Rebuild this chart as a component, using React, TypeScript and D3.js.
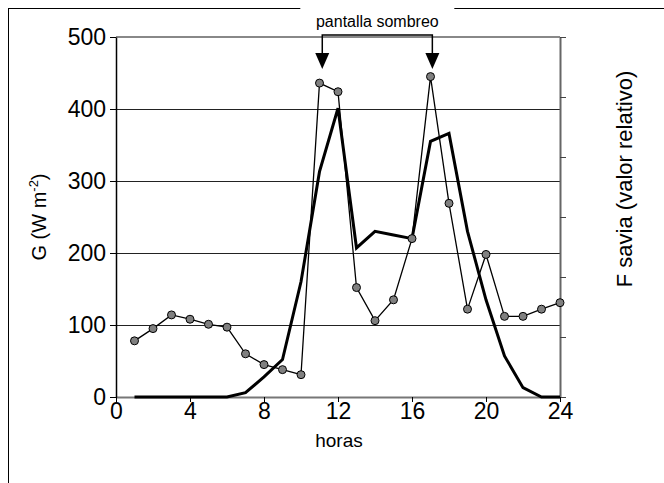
import React, { useRef, useEffect } from 'react';
import * as d3 from 'd3';

// horas del dia
const hours = [1, 2, 3, 4, 5, 6, 7, 8, 9, 10, 11, 12, 13, 14, 15, 16, 17, 18, 19, 20, 21, 22, 23, 24];
// radiacion global G (W m-2), linea gruesa
const radiation = [0, 0, 0, 0, 0, 0, 6, 28, 52, 160, 313, 401, 207, 230, 225, 220, 355, 366, 230, 135, 57, 13, 0, 0];
// flujo de savia (relativo, misma escala visual), linea con circulos
const sapFlow = [78, 95, 114, 108, 101, 97, 60, 45, 38, 31, 436, 424, 152, 106, 135, 220, 445, 269, 122, 198, 112, 112, 122, 131];
const xTicks = [0, 4, 8, 12, 16, 20, 24];
const yTicks = [0, 100, 200, 300, 400, 500];
const gridValues = [100, 200, 300, 400];
const rightTicks = [0, 1, 2, 3, 4, 5, 6];
const shadeHours = [11.15, 17.1];
const annotation = 'pantalla sombreo';

const App = () => {
    const ref = useRef<SVGSVGElement>(null);

    useEffect(() => {
        const svg = d3.select(ref.current);
        svg.selectAll('*').remove();

        const left = 116, right = 560, top = 37, bottom = 397;
        const font = 'Liberation Sans, Arial, sans-serif';
        const tickFs = 23;

        const x = d3.scaleLinear().domain([0, 24]).range([left, right]);
        const y = d3.scaleLinear().domain([0, 500]).range([bottom, top]);
        const yRight = d3.scaleLinear().domain([0, 6]).range([bottom, top]);

        // marco exterior
        svg.append('rect')
            .attr('x', 8.5).attr('y', 8.5)
            .attr('width', 800).attr('height', 600)
            .attr('fill', 'white').attr('stroke', 'black').attr('stroke-width', 1);

        // lineas de rejilla
        svg.append('g').selectAll('line').data(gridValues).join('line')
            .attr('x1', left).attr('x2', right)
            .attr('y1', d => Math.round(y(d)) + 0.5).attr('y2', d => Math.round(y(d)) + 0.5)
            .attr('stroke', '#222').attr('stroke-width', 1);

        // borde superior del area
        svg.append('line')
            .attr('x1', left).attr('x2', right)
            .attr('y1', top).attr('y2', top)
            .attr('stroke', '#888').attr('stroke-width', 2);

        // eje derecho
        const rightAxis = svg.append('g')
            .attr('transform', `translate(${right}, 0)`)
            .call(d3.axisRight(yRight).tickValues(rightTicks).tickFormat(() => '').tickSize(6).tickSizeOuter(0));
        rightAxis.select('.domain').attr('stroke', '#666').attr('stroke-width', 2);
        rightAxis.selectAll('.tick line').attr('stroke', '#444');

        // eje x
        const xAxis = svg.append('g')
            .attr('transform', `translate(0, ${bottom})`)
            .call(d3.axisBottom(x).tickValues(xTicks).tickSize(5).tickSizeOuter(0).tickPadding(1));
        xAxis.select('.domain').attr('stroke', '#777').attr('stroke-width', 2);
        xAxis.selectAll('.tick text').attr('font-family', font).attr('font-size', tickFs).attr('fill', 'black');

        // eje y
        const yAxis = svg.append('g')
            .attr('transform', `translate(${left}, 0)`)
            .call(d3.axisLeft(y).tickValues(yTicks).tickSize(6).tickSizeOuter(0).tickPadding(4));
        yAxis.select('.domain').attr('stroke', 'black').attr('stroke-width', 1.5);
        yAxis.selectAll('.tick text').attr('font-family', font).attr('font-size', tickFs).attr('fill', 'black');

        // radiacion (linea gruesa)
        const line = d3.line<number>()
            .x((d, i) => x(hours[i]))
            .y(d => y(d));
        svg.append('path')
            .datum(radiation)
            .attr('fill', 'none')
            .attr('stroke', 'black')
            .attr('stroke-width', 3)
            .attr('d', line);

        // flujo de savia (linea fina + circulos)
        svg.append('path')
            .datum(sapFlow)
            .attr('fill', 'none')
            .attr('stroke', 'black')
            .attr('stroke-width', 1.3)
            .attr('d', line);

        svg.append('g').selectAll('circle').data(sapFlow).join('circle')
            .attr('cx', (d, i) => x(hours[i]))
            .attr('cy', d => y(d))
            .attr('r', 4)
            .attr('fill', '#808080')
            .attr('stroke', 'black')
            .attr('stroke-width', 1);

        // anotacion pantalla sombreo
        const ax1 = x(shadeHours[0]), ax2 = x(shadeHours[1]);
        const mid = (ax1 + ax2) / 2;
        svg.append('rect')
            .attr('x', mid - 77).attr('y', 5)
            .attr('width', 154).attr('height', 26)
            .attr('fill', 'white');
        svg.append('text')
            .attr('x', mid)
            .attr('y', 27)
            .attr('text-anchor', 'middle')
            .attr('font-family', font)
            .attr('font-size', 16)
            .text(annotation);
        svg.append('path')
            .attr('d', `M${ax1},54 L${ax1},35 L${ax2},35 L${ax2},54`)
            .attr('fill', 'none')
            .attr('stroke', 'black')
            .attr('stroke-width', 1.5);
        shadeHours.forEach(h => {
            const cx = x(h);
            svg.append('path')
                .attr('d', `M${cx - 7},53 L${cx + 7},53 L${cx},69 Z`)
                .attr('fill', 'black');
        });

        // titulos de ejes
        const yl = svg.append('text')
            .attr('transform', `translate(46, 217) rotate(-90)`)
            .attr('text-anchor', 'middle')
            .attr('font-family', font)
            .attr('font-size', 20);
        yl.append('tspan').text('G (W m');
        yl.append('tspan').attr('font-size', 13).attr('dy', -8).text('-2');
        yl.append('tspan').attr('dy', 8).text(')');

        svg.append('text')
            .attr('transform', `translate(632, 179) rotate(-90)`)
            .attr('text-anchor', 'middle')
            .attr('font-family', font)
            .attr('font-size', 22)
            .text('F savia (valor relativo)');

        svg.append('text')
            .attr('x', 339)
            .attr('y', 447)
            .attr('text-anchor', 'middle')
            .attr('font-family', font)
            .attr('font-size', 19)
            .text('horas');
    }, []);

    return (
        <svg ref={ref} width={664} height={483}
            style={{ position: 'absolute', left: 0, top: 0, display: 'block', background: 'white' }} />
    );
};

export default App;
